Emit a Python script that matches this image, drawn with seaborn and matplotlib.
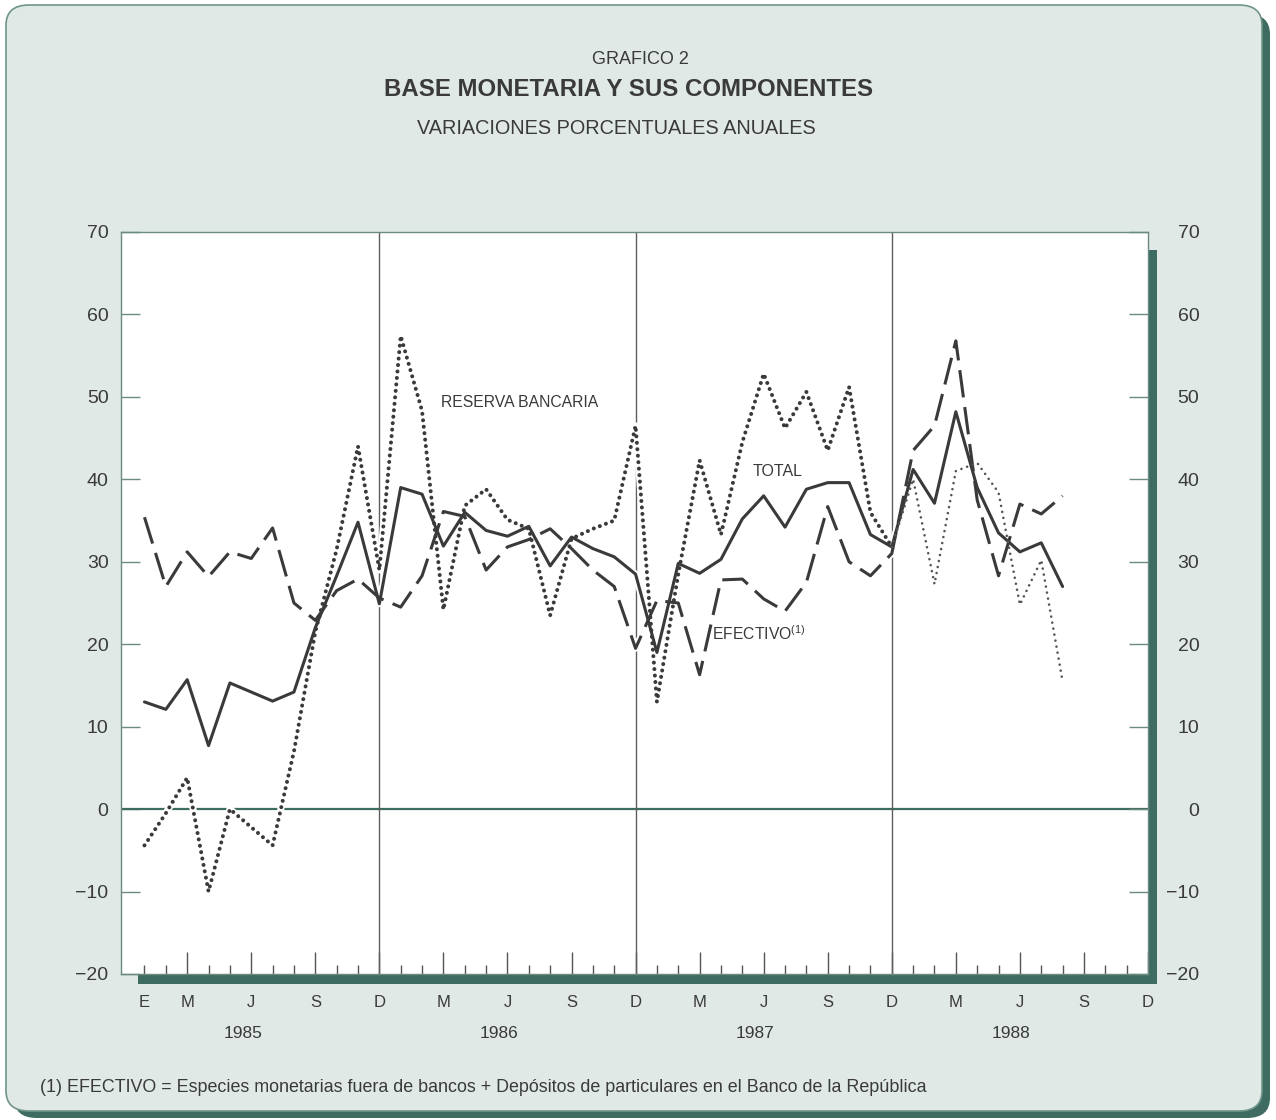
import numpy as np
import pandas as pd
import matplotlib
matplotlib.use("Agg")
import matplotlib.pyplot as plt
import seaborn as sns
from matplotlib.patches import FancyBboxPatch, Rectangle
from matplotlib.transforms import blended_transform_factory

# Variaciones porcentuales anuales, mensual ene-1985 a ago-1988
total = [13.0, 12.1, 15.7, 7.7, 15.3, 14.2, 13.1, 14.2, 22.0, 28.3, 34.8, 24.9,
         39.0, 38.2, 31.9, 36.0, 33.8, 33.1, 34.3, 29.5, 33.0, 31.6, 30.6, 28.5,
         19.0, 29.8, 28.6, 30.3, 35.2, 38.0, 34.2, 38.8, 39.6, 39.6, 33.3, 31.8,
         41.2, 37.1, 48.2, 39.0, 33.5, 31.2, 32.3, 27.0]
efectivo = [35.4, 27.0, 31.2, 28.2, 31.2, 30.4, 34.1, 25.0, 22.9, 26.5, 27.9, 25.6,
            24.5, 28.3, 36.1, 35.5, 29.0, 31.8, 32.7, 34.0, 31.6, 29.0, 27.0, 19.5,
            25.3, 25.0, 16.3, 27.8, 27.9, 25.5, 24.0, 27.5, 36.7, 30.0, 28.3, 31.0,
            43.5, 46.5, 56.8, 37.5, 28.3, 37.0, 35.8, 38.0]
reserva = [-4.4, -0.5, 3.8, -10.0, 0.0, -2.2, -4.4, 7.0, 21.5, 31.5, 44.0, 29.0,
           57.4, 48.3, 24.2, 36.8, 38.8, 35.1, 34.0, 23.5, 32.8, 34.0, 35.0, 46.5,
           13.0, 28.5, 42.3, 33.3, 44.5, 52.8, 46.2, 50.6, 43.5, 51.2, 36.0, 31.8,
           40.0, 27.3, 41.0, 42.0, 38.4, 24.8, 30.2, 15.5]

anios = ["1985", "1986", "1987", "1988"]
letras = {0: "E", 2: "M", 5: "J", 8: "S", 11: "D"}   # mes del anio -> letra
n_meses = 48

df = pd.DataFrame({"mes": np.arange(len(total)), "total": total,
                   "efectivo": efectivo, "reserva": reserva})

ink = "#3a3a3a"
teal = "#3f6c61"
panel = "#e0e9e5"
gris_eje = "#6a8a82"

sns.set_theme(style="white")
plt.rcParams["font.family"] = ["Liberation Sans", "DejaVu Sans"]
plt.rcParams["text.color"] = ink

W, H = 1276, 1120
fig = plt.figure(figsize=(W / 100, H / 100), dpi=100, facecolor="white")

# marco redondeado con sombra
fig.patches.append(FancyBboxPatch((14 / W, 1 - 1118 / H), 1256 / W, 1104 / H,
                                  boxstyle="round,pad=0,rounding_size=0.018",
                                  transform=fig.transFigure, facecolor=teal,
                                  edgecolor="none", zorder=-3))
fig.patches.append(FancyBboxPatch((6 / W, 1 - 1111 / H), 1256 / W, 1106 / H,
                                  boxstyle="round,pad=0,rounding_size=0.018",
                                  transform=fig.transFigure, facecolor=panel,
                                  edgecolor="#6f958b", linewidth=1.2, zorder=-2))
# sombra del area del grafico
fig.patches.append(Rectangle((138 / W, 1 - 984 / H), 1019 / W, 734 / H,
                             transform=fig.transFigure, facecolor=teal,
                             edgecolor="none", zorder=-1))

ax = fig.add_axes([121 / W, 1 - 974 / H, 1027 / W, 742 / H])
ax.set_facecolor("white")

# lineas de referencia
ax.axhline(0, color=teal, lw=1.6, zorder=1)
for d in (11, 23, 35):
    ax.axvline(d, color="#5c5c5c", lw=1.0, zorder=1)

# halos blancos (cortan las lineas de referencia como en el impreso)
for col in ("total", "efectivo", "reserva"):
    sns.lineplot(data=df, x="mes", y=col, ax=ax, color="white", lw=5,
                 errorbar=None, zorder=2)

sns.lineplot(data=df, x="mes", y="total", ax=ax, color=ink, lw=2.2,
             errorbar=None, zorder=3)
sns.lineplot(data=df, x="mes", y="efectivo", ax=ax, color=ink, lw=2.2,
             linestyle=(0, (9, 3.2)), errorbar=None, zorder=3)
sns.lineplot(data=df.iloc[:36], x="mes", y="reserva", ax=ax, color=ink, lw=2.9,
             linestyle=(0, (0.01, 1.6)), dash_capstyle="round", errorbar=None, zorder=3)
sns.lineplot(data=df.iloc[35:], x="mes", y="reserva", ax=ax, color="#555555", lw=1.9,
             linestyle=(0, (0.01, 2.3)), dash_capstyle="round", errorbar=None, zorder=3)

ax.set_xlim(-1.1, n_meses - 1)
ax.set_ylim(-20, 70)
ax.set_xlabel("")
ax.set_ylabel("")

for s in ax.spines.values():
    s.set_color(gris_eje)
    s.set_linewidth(1.0)

# eje y izquierdo y derecho
yt = list(range(-20, 71, 10))
ax.set_yticks(yt)
ax.tick_params(axis="y", left=True, direction="in", length=14, width=1.0,
               color=gris_eje, labelsize=14, labelcolor=ink, pad=9)
ax2 = ax.twinx()
ax2.set_ylim(ax.get_ylim())
ax2.set_yticks(yt)
ax2.tick_params(axis="y", right=True, direction="in", length=14, width=1.0,
                color=gris_eje, labelsize=14, labelcolor=ink, pad=37)
plt.setp(ax2.get_yticklabels(), ha="right")
ax2.spines[:].set_visible(False)

# eje x: meses
pos_lbl = [m for m in range(n_meses) if (m % 12) in letras and not (m % 12 == 0 and m > 0)]
ax.set_xticks(pos_lbl)
ax.set_xticklabels([letras[m % 12] for m in pos_lbl])
ax.set_xticks(range(n_meses), minor=True)
ax.tick_params(axis="x", which="major", bottom=True, direction="in", length=16,
               width=1.0, color="#555555", labelsize=12, labelcolor=ink, pad=15)
ax.tick_params(axis="x", which="minor", bottom=True, direction="in", length=6.5,
               width=1.0, color="#555555")
ax.xaxis.get_major_ticks()[0].tick1line.set_markersize(6.5)

trans = blended_transform_factory(ax.transData, ax.transAxes)
for k, a in enumerate(anios):
    ax.text(12 * k + 4.6, -0.080, a, transform=trans, ha="center", va="center",
            fontsize=12.5, color=ink)

# rotulos de las series
ax.text(13.9, 49.3, "RESERVA BANCARIA", fontsize=11.3, va="center", ha="left", color=ink)
ax.text(28.5, 41.0, "TOTAL", fontsize=11.5, va="center", ha="left", color=ink)
ax.text(26.6, 21.3, "EFECTIVO$^{\\mathregular{(1)}}$", fontsize=11.3, va="center",
        ha="left", color=ink)

# titulos
fig.text(640 / W, 1 - 60 / H, "GRAFICO 2", ha="center", va="center", fontsize=13)
fig.text(629 / W, 1 - 90 / H, "BASE MONETARIA Y SUS COMPONENTES", ha="center",
         va="center", fontsize=17.3, fontweight="bold")
fig.text(616 / W, 1 - 128 / H, "VARIACIONES PORCENTUALES ANUALES", ha="center",
         va="center", fontsize=14.3)
fig.text(40 / W, 1 - 1087 / H,
         "(1) EFECTIVO = Especies monetarias fuera de bancos + Depósitos de particulares en el Banco de la República",
         ha="left", va="center", fontsize=12.9)

fig.savefig("out.png", dpi=100, facecolor=fig.get_facecolor())
